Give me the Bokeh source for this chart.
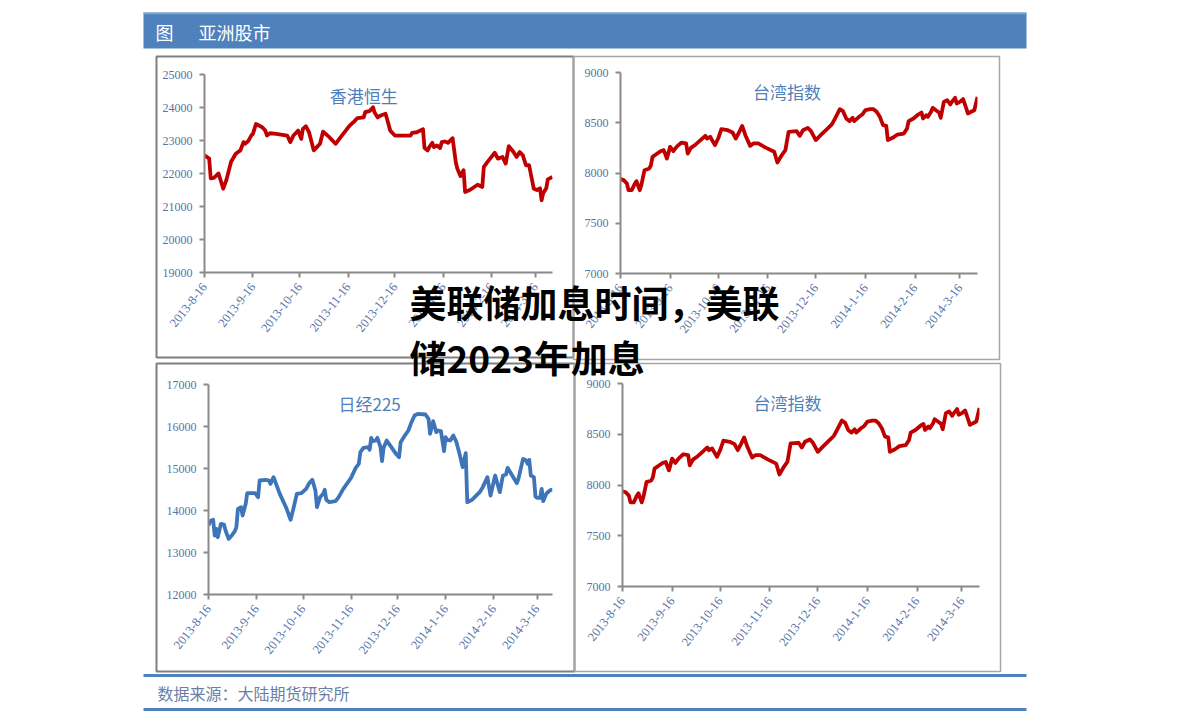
import datetime as dt
import math
from bokeh.plotting import figure
from bokeh.models import Range1d, FixedTicker, GridBox
from bokeh.core.properties import value
from bokeh.embed import file_html
from bokeh.resources import INLINE

# ---------------- data ----------------
START = dt.date(2013, 8, 16)
x_tick_labels = ["2013-8-16", "2013-9-16", "2013-10-16", "2013-11-16",
                 "2013-12-16", "2014-1-16", "2014-2-16", "2014-3-16"]

# days since 2013-08-16
hsi_day = [0, 3, 4, 6, 9, 10, 12, 14, 17, 20, 23, 25, 26, 28, 30, 31, 33, 37, 39, 40,
           42, 46, 53, 55, 57, 59, 60, 62, 63, 65, 67, 70, 72, 74, 76, 80, 84, 88, 93, 96,
           98, 102, 103, 106, 108, 109, 111, 113, 116, 117, 119, 122, 128, 132, 133, 136, 140, 141, 143, 144,
           146, 147, 149, 151, 152, 154, 156, 159, 161, 162, 164, 166, 167, 170, 175, 178, 179, 181, 183, 186,
           188, 191, 193, 195, 198, 200, 202, 204, 206, 208, 211, 213, 215, 216, 217, 219, 220, 223]
hsi_val = [22550, 22450, 21850, 21870, 22000, 21850, 21540, 21800, 22350, 22600,
           22700, 22950, 22900, 22980, 23150, 23200, 23500, 23400, 23300, 23150,
           23220, 23200, 23150, 22950, 23150, 23250, 23300, 23050, 23350, 23430,
           23250, 22700, 22800, 22900, 23270, 23100, 22900, 23150, 23450, 23580,
           23680, 23700, 23860, 23900, 24010, 23850, 23700, 23760, 23810, 23650,
           23300, 23150, 23150, 23150, 23230, 23250, 23340, 22770, 22700, 22800,
           22930, 22800, 22850, 22770, 22950, 22970, 22930, 23070, 22350, 22150,
           21920, 22100, 21440, 21500, 21660, 21590, 22200, 22330, 22450, 22630,
           22450, 22500, 22300, 22830, 22650, 22500, 22650, 22550, 22250, 22250,
           21540, 21500, 21550, 21190, 21400, 21550, 21820, 21900]

tw_day = [0, 2, 4, 5, 7, 9, 10, 12, 13, 15, 18, 19, 20, 23, 25, 27, 29, 31, 33, 35,
          38, 41, 42, 44, 47, 50, 53, 54, 56, 59, 61, 63, 67, 70, 72, 74, 76, 78, 81, 83,
          86, 91, 96, 98, 101, 103, 105, 110, 112, 114, 117, 119, 122, 125, 129, 132, 134, 137, 139, 141,
          143, 145, 146, 149, 151, 153, 156, 158, 160, 162, 164, 166, 167, 170, 173, 177, 179, 180, 183, 186,
          188, 189, 191, 192, 194, 195, 197, 199, 200, 202, 204, 206, 207, 209, 210, 212, 214, 216, 217, 219,
          221, 223]
tw_val = [7939, 7929, 7895, 7829, 7829, 7895, 7919, 7829, 7879, 8028,
          8045, 8078, 8161, 8194, 8217, 8227, 8144, 8260, 8217, 8260,
          8303, 8294, 8194, 8250, 8284, 8327, 8370, 8343, 8360, 8277,
          8343, 8436, 8426, 8403, 8343, 8403, 8469, 8376, 8270, 8294,
          8294, 8250, 8211, 8104, 8184, 8227, 8410, 8416, 8370, 8426,
          8449, 8416, 8327, 8376, 8436, 8483, 8542, 8635, 8615, 8542,
          8516, 8549, 8516, 8559, 8582, 8625, 8635, 8635, 8609, 8559,
          8476, 8469, 8327, 8350, 8383, 8393, 8443, 8516, 8542, 8582,
          8602, 8542, 8575, 8559, 8609, 8648, 8625, 8602, 8549, 8708,
          8725, 8682, 8708, 8748, 8692, 8708, 8735, 8642, 8592, 8609,
          8625, 8758]

nk_day = [0, 1, 3, 4, 5, 6, 8, 10, 11, 13, 15, 17, 18, 19, 21, 22, 24, 25, 27, 30,
          32, 33, 37, 39, 40, 42, 46, 50, 53, 55, 57, 60, 63, 65, 67, 69, 70, 72, 74, 75,
          76, 78, 82, 84, 87, 92, 95, 97, 98, 100, 103, 104, 105, 106, 108, 109, 111, 112, 113, 115,
          118, 121, 123, 124, 126, 129, 131, 133, 135, 140, 142, 143, 145, 147, 148, 150, 152, 153, 154, 156,
          158, 160, 162, 164, 165, 166, 167, 170, 175, 177, 180, 182, 184, 185, 188, 190, 192, 193, 196, 199,
          200, 203, 205, 206, 207, 208, 210, 211, 212, 214, 215, 216, 218, 219, 221, 222]
nk_val = [13643, 13746, 13778, 13405, 13563, 13365, 13683, 13667, 13524, 13325,
          13405, 13508, 13603, 14040, 14079, 13881, 14159, 14413, 14413, 14413,
          14317, 14714, 14730, 14714, 14635, 14794, 14397, 14079, 13778, 14079,
          14397, 14413, 14516, 14651, 14730, 14476, 14079, 14317, 14397, 14492,
          14254, 14198, 14222, 14317, 14516, 14778, 15016, 15111, 15389, 15492,
          15508, 15444, 15730, 15651, 15667, 15730, 15508, 15175, 15492, 15667,
          15508, 15349, 15270, 15627, 15746, 15905, 16103, 16262, 16302, 16286,
          16183, 15825, 16127, 15865, 15905, 15889, 15413, 15746, 15683, 15667,
          15786, 15627, 15349, 15032, 15206, 15365, 14198, 14254, 14437, 14556,
          14794, 14357, 14675, 14833, 14437, 14833, 14857, 15016, 14833, 14651,
          14754, 15230, 15190, 15111, 15206, 14833, 14794, 14333, 14302, 14302,
          14516, 14222, 14397, 14437, 14492, 14492]

hsi_yticks = [19000, 20000, 21000, 22000, 23000, 24000, 25000]
tw_yticks = [7000, 7500, 8000, 8500, 9000]
nk_yticks = [12000, 13000, 14000, 15000, 16000, 17000]

titles = ["香港恒生", "台湾指数", "日经225", "台湾指数"]
header_text = ["图", "亚洲股市"]
source_text = "数据来源：大陆期货研究所"
overlay_lines = ["美联储加息时间，美联", "储2023年加息"]

# ---------------- styling ----------------
W, H = 1191, 721
RED = "#C00000"
BLUE_LINE = "#3D74BA"
HEAD_BLUE = "#4F81BD"
TICK_COL = "#5574A8"
TITLE_COL = "#4F7FBA"
AXIS_COL = "#8A8A8A"
CJK = "Noto Sans CJK SC"

tick_days = [(dt.date(*map(int, s.split("-"))) - START).days for s in x_tick_labels]


def chart(days, vals, color, yticks, xend, title, title_xy, left, top, width, height,
          mb_left, mb_right, mb_top, mb_bottom):
    p = figure(width=width, height=height, output_backend="svg", toolbar_location=None,
               x_range=Range1d(0, xend), y_range=Range1d(yticks[0], yticks[-1]),
               min_border_left=mb_left, min_border_right=mb_right,
               min_border_top=mb_top, min_border_bottom=mb_bottom,
               margin=(top, 0, 0, left), frame_align=False)
    p.background_fill_color = None
    p.border_fill_color = None
    p.outline_line_color = None
    p.grid.visible = False
    p.line(days, vals, line_color=color, line_width=3.8, line_join="round")
    p.text(x=[title_xy[0]], y=[title_xy[1]], text=[title], text_align="center",
           text_baseline="middle", text_font=value(CJK), text_font_size="17px",
           text_color=TITLE_COL)
    xa = p.xaxis[0]
    xa.ticker = FixedTicker(ticks=tick_days)
    xa.major_label_overrides = {d: s for d, s in zip(tick_days, x_tick_labels)}
    xa.major_label_orientation = math.radians(52)
    ya = p.yaxis[0]
    ya.ticker = FixedTicker(ticks=yticks)
    for ax in (xa, ya):
        ax.axis_line_color = AXIS_COL
        ax.axis_line_width = 2
        ax.major_tick_line_color = AXIS_COL
        ax.major_tick_line_width = 2
        ax.major_tick_out = 5
        ax.major_tick_in = 0
        ax.minor_tick_line_color = None
        ax.major_label_text_font = "Liberation Serif"
        ax.major_label_text_color = TICK_COL
    xa.major_label_text_font_size = "12.5px"
    ya.major_label_text_font_size = "12px"
    ya.major_label_standoff = 7
    xa.major_label_standoff = 7
    return p


p_hsi = chart(hsi_day, hsi_val, RED, hsi_yticks, 223, titles[0], (102, 24360),
              156, 57, 416, 299, 48, 20, 17, 84)
p_tw1 = chart(tw_day, tw_val, RED, tw_yticks, 223, titles[1], (104, 8811),
              575, 57, 420, 299, 45, 18, 15, 83)
p_nk = chart(nk_day, nk_val, BLUE_LINE, nk_yticks, 222, titles[2], (104, 16548),
             157, 364, 415, 306, 51, 20, 20, 76)
p_tw2 = chart(tw_day, tw_val, RED, tw_yticks, 223, titles[3], (103, 8813),
              576, 364, 421, 306, 46, 18, 19, 84)


def canvas_fig():
    f = figure(width=W, height=H, output_backend="svg", toolbar_location=None,
               x_range=Range1d(0, W), y_range=Range1d(H, 0),
               x_axis_location=None, y_axis_location=None,
               min_border_left=0, min_border_right=0, min_border_top=0, min_border_bottom=0,
               frame_align=False)
    f.outline_line_color = None
    f.grid.visible = False
    return f


# ---------------- background (page furniture) ----------------
bg = canvas_fig()
bg.background_fill_color = "white"
bg.border_fill_color = "white"
bg.quad(left=[143], right=[1026], top=[12], bottom=[48], fill_color=HEAD_BLUE, line_color=None)
bg.segment(x0=[143], y0=[13], x1=[1026], y1=[13], line_color="#7FA3D0", line_width=1.5)
bg.text(x=[155, 198], y=[31, 31], text=header_text, text_color="white",
        text_font=value(CJK), text_font_size="18px", text_baseline="middle")
bg.quad(left=[156, 156], right=[573, 574], top=[56, 363], bottom=[357, 671],
        fill_color=None, line_color="#7F7F7F", line_width=2)
bg.quad(left=[573, 574], right=[999, 1000], top=[56, 363], bottom=[359, 671],
        fill_color=None, line_color="#A6A6A6", line_width=1.5)
bg.segment(x0=[143, 143], y0=[675, 709], x1=[1026, 1026], y1=[675, 709],
           line_color=HEAD_BLUE, line_width=3)
bg.text(x=[157], y=[692], text=[source_text], text_color="#6A7FA5",
        text_font=value(CJK), text_font_size="16px", text_baseline="middle")

# ---------------- overlay headline ----------------
ov = canvas_fig()
ov.background_fill_color = None
ov.border_fill_color = None
ov.text(x=[409, 409], y=[301, 356], text=overlay_lines, text_color="black",
        text_font=value(CJK), text_font_size="37px", text_font_style="bold",
        text_baseline="middle")

p = GridBox(children=[(bg, 0, 0), (p_hsi, 0, 0), (p_tw1, 0, 0), (p_nk, 0, 0),
                      (p_tw2, 0, 0), (ov, 0, 0)])

open("out.html", "w").write(file_html(p, INLINE))
